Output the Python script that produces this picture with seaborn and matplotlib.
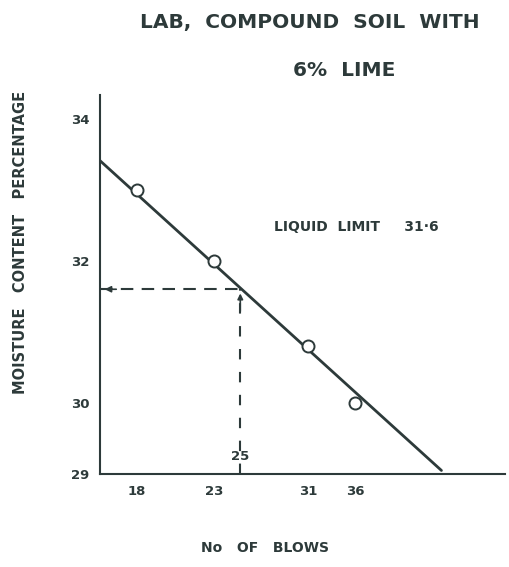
import numpy as np
import pandas as pd
import matplotlib
matplotlib.use('Agg')
import matplotlib.pyplot as plt
import seaborn as sns

# lecturas del ensayo de limite liquido
golpes = [18, 23, 31, 36]
humedad = [33.0, 32.0, 30.8, 30.0]

# recta de flujo (extremos)
recta_golpes = [16, 47.4]
recta_humedad = [33.41, 29.05]

limite_golpes = 25
limite_liquido = 31.6

y_ticks = [29, 30, 32, 34]
x_ticks = [18, 23, 31, 36]

tinta = '#2d3a3a'

sns.set_style('white')
plt.rcParams['font.family'] = ['DejaVu Sans']
plt.rcParams['font.weight'] = 'bold'

fig = plt.figure(figsize=(5.1, 5.67), dpi=100)
ax = fig.add_axes([0.196, 0.164, 0.794, 0.668])
ax.set_xscale('log')

df_recta = pd.DataFrame({'golpes': recta_golpes, 'humedad': recta_humedad})
df_puntos = pd.DataFrame({'golpes': golpes, 'humedad': humedad})

sns.lineplot(data=df_recta, x='golpes', y='humedad', color=tinta, linewidth=2.0, ax=ax)
sns.scatterplot(data=df_puntos, x='golpes', y='humedad', s=75, facecolor='white',
                edgecolor=tinta, linewidth=1.4, zorder=5, ax=ax)

# lineas de trazos hasta el limite liquido
ax.plot([16, limite_golpes], [limite_liquido, limite_liquido], color=tinta,
        linestyle=(0, (6, 4)), linewidth=1.5)
ax.plot([limite_golpes, limite_golpes], [29, limite_liquido], color=tinta,
        linestyle=(0, (5, 6)), linewidth=1.5)
ax.annotate('', xy=(16.1, limite_liquido), xytext=(17.0, limite_liquido),
            arrowprops=dict(arrowstyle='-|>', color=tinta, lw=1.2, mutation_scale=9))
ax.annotate('', xy=(limite_golpes, limite_liquido - 0.02), xytext=(limite_golpes, limite_liquido - 0.35),
            arrowprops=dict(arrowstyle='-|>', color=tinta, lw=1.2, mutation_scale=8))
ax.text(limite_golpes, 29.25, '25', ha='center', va='center', fontsize=9.5,
        fontweight='bold', color=tinta)

ax.set_xlim(16, 58)
ax.set_ylim(29, 34.33)
ax.set_xticks(x_ticks)
ax.set_xticklabels([str(v) for v in x_ticks])
ax.minorticks_off()
ax.set_yticks(y_ticks)
ax.set_yticklabels([str(v) for v in y_ticks])
ax.tick_params(axis='both', colors=tinta, labelsize=9.5, length=4, width=1.2,
               direction='inout', pad=6)
ax.tick_params(axis='y', length=5, pad=5)
ax.set_xlabel('')
ax.set_ylabel('')

sns.despine(ax=ax)
for lado in ['left', 'bottom']:
    ax.spines[lado].set_color(tinta)
    ax.spines[lado].set_linewidth(1.5)

ax.text(0.43, 0.652, 'LIQUID  LIMIT     31·6', transform=ax.transAxes, fontsize=10,
        fontweight='bold', color=tinta, va='center', ha='left')

fig.text(0.608, 0.960, 'LAB,  COMPOUND  SOIL  WITH', ha='center', va='center',
         fontsize=14.5, fontweight='bold', color=tinta)
fig.text(0.675, 0.876, '6%  LIME', ha='center', va='center',
         fontsize=14.5, fontweight='bold', color=tinta)
fig.text(0.04, 0.573, 'MOISTURE   CONTENT   PERCENTAGE', rotation=90, ha='center',
         va='center', fontsize=10.5, fontweight='bold', color=tinta)
fig.text(0.52, 0.034, 'No   OF   BLOWS', ha='center', va='center',
         fontsize=10, fontweight='bold', color=tinta)

fig.savefig('out.png', dpi=100)
